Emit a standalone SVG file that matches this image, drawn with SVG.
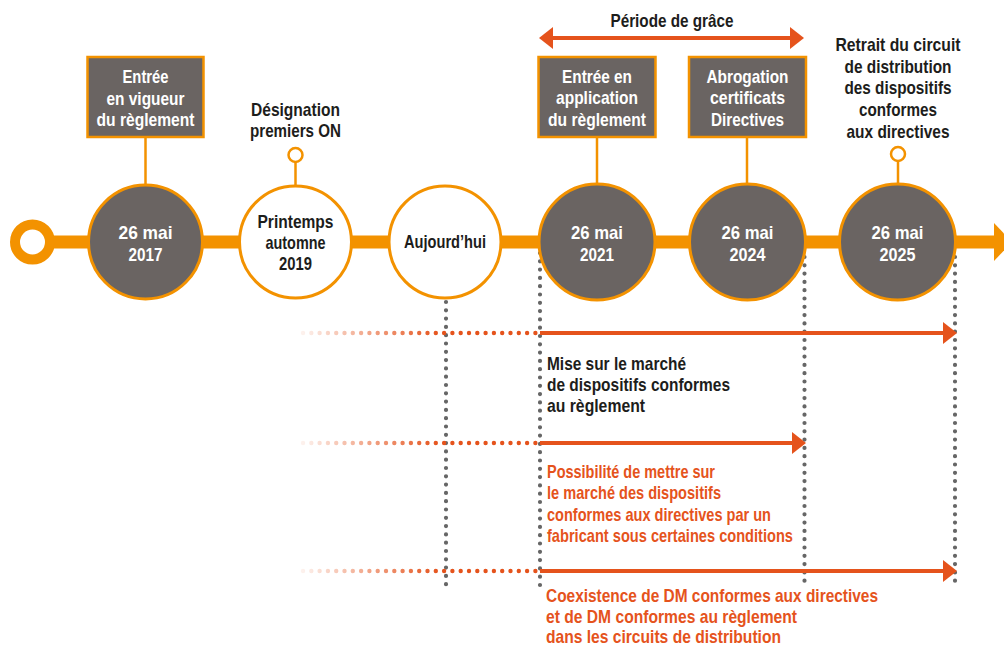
<svg xmlns="http://www.w3.org/2000/svg" width="1004" height="648" viewBox="0 0 1004 648">
<style>
text{font-family:"Liberation Sans Narrow","Liberation Sans",Arial,sans-serif;font-weight:bold;font-size:19px}
.w{fill:#ffffff;text-anchor:middle}
.k{fill:#1d1d1b;text-anchor:middle}
.kl{fill:#1d1d1b}
.ol{fill:#e5531c}
.gray{fill:#6a6462;stroke:#f39200;stroke-width:3}
.white{fill:#ffffff;stroke:#f39200;stroke-width:3}
.box{fill:#6a6462;stroke:#f39200;stroke-width:2.5}
.stem{stroke:#f39200;stroke-width:2.5;fill:none}
.vdot{stroke:#666666;stroke-width:4.2;stroke-linecap:round;stroke-dasharray:0 8.3;fill:none}
.hdot{stroke:url(#fade);stroke-width:4.4;stroke-linecap:round;stroke-dasharray:0 8.3;fill:none}
.sol{stroke:#e5531c;stroke-width:4;fill:none}
.head{fill:#e5531c}
</style>
<defs>
<linearGradient id="fade" gradientUnits="userSpaceOnUse" x1="303" y1="0" x2="440" y2="0">
<stop offset="0" stop-color="#e5531c" stop-opacity="0.08"/>
<stop offset="1" stop-color="#e5531c" stop-opacity="1"/>
</linearGradient>
</defs>
<rect width="1004" height="648" fill="#ffffff"/>

<g id="connectors">
<rect x="40" y="235.5" width="960" height="13" fill="#f39200"/>
<polygon points="994,223 1012,242 994,261" fill="#f39200"/>
<circle cx="32.5" cy="242" r="17.5" fill="#ffffff" stroke="#f39200" stroke-width="10"/>
<line class="stem" x1="145.5" y1="137" x2="145.5" y2="185"/>
<line class="stem" x1="597" y1="137" x2="597" y2="185"/>
<line class="stem" x1="747" y1="137" x2="747" y2="185"/>
<line class="stem" x1="295.5" y1="162" x2="295.5" y2="186"/>
<line class="stem" x1="898" y1="161" x2="898" y2="185"/>
<line class="vdot" x1="446" y1="302" x2="446" y2="586"/>
<line class="vdot" x1="540" y1="253" x2="540" y2="586"/>
<line class="vdot" x1="804.5" y1="257" x2="804.5" y2="586"/>
<line class="vdot" x1="955" y1="257" x2="955" y2="586"/>
<line class="hdot" x1="303" y1="333" x2="538" y2="333"/>
<line class="hdot" x1="303" y1="443" x2="538" y2="443"/>
<line class="hdot" x1="303" y1="571" x2="538" y2="571"/>
<line class="sol" x1="540" y1="333" x2="945" y2="333"/>
<polygon class="head" points="943,322 957,333 943,344"/>
<line class="sol" x1="540" y1="443" x2="794" y2="443"/>
<polygon class="head" points="792,432 806,443 792,454"/>
<line class="sol" x1="540" y1="571" x2="945" y2="571"/>
<polygon class="head" points="943,560 957,571 943,582"/>
<line class="sol" x1="550" y1="38" x2="793" y2="38"/>
<polygon class="head" points="553,27 539,38 553,49"/>
<polygon class="head" points="790,27 804,38 790,49"/>
</g>

<g id="grace-label">
<text class="k" x="672" y="27" textLength="123" lengthAdjust="spacingAndGlyphs">Période de grâce</text>
</g>

<g id="box-vigueur">
<rect class="box" x="87.5" y="57" width="116" height="80"/>
<text class="w" x="145.5" y="83" textLength="46" lengthAdjust="spacingAndGlyphs">Entrée</text>
<text class="w" x="145.5" y="105" textLength="78" lengthAdjust="spacingAndGlyphs">en vigueur</text>
<text class="w" x="145.5" y="126" textLength="98" lengthAdjust="spacingAndGlyphs">du règlement</text>
</g>

<g id="box-application">
<rect class="box" x="538.5" y="57" width="117" height="80"/>
<text class="w" x="597" y="83" textLength="70" lengthAdjust="spacingAndGlyphs">Entrée en</text>
<text class="w" x="597" y="104" textLength="82" lengthAdjust="spacingAndGlyphs">application</text>
<text class="w" x="597" y="126" textLength="98" lengthAdjust="spacingAndGlyphs">du règlement</text>
</g>

<g id="box-abrogation">
<rect class="box" x="689" y="57" width="117" height="80"/>
<text class="w" x="747.5" y="83" textLength="82" lengthAdjust="spacingAndGlyphs">Abrogation</text>
<text class="w" x="747.5" y="104" textLength="75" lengthAdjust="spacingAndGlyphs">certificats</text>
<text class="w" x="747.5" y="126" textLength="73" lengthAdjust="spacingAndGlyphs">Directives</text>
</g>

<g id="label-designation">
<text class="k" x="295.5" y="116" textLength="89" lengthAdjust="spacingAndGlyphs">Désignation</text>
<text class="k" x="295.5" y="137" textLength="91" lengthAdjust="spacingAndGlyphs">premiers ON</text>
<circle cx="295.5" cy="155" r="7" fill="#ffffff" stroke="#f39200" stroke-width="2.5"/>
</g>

<g id="label-retrait">
<text class="k" x="898" y="51" textLength="125" lengthAdjust="spacingAndGlyphs">Retrait du circuit</text>
<text class="k" x="898" y="73" textLength="107" lengthAdjust="spacingAndGlyphs">de distribution</text>
<text class="k" x="898" y="94" textLength="107" lengthAdjust="spacingAndGlyphs">des dispositifs</text>
<text class="k" x="898" y="116" textLength="78" lengthAdjust="spacingAndGlyphs">conformes</text>
<text class="k" x="898" y="138" textLength="103" lengthAdjust="spacingAndGlyphs">aux directives</text>
<circle cx="898" cy="154" r="7" fill="#ffffff" stroke="#f39200" stroke-width="2.5"/>
</g>

<g id="node-2017">
<circle class="gray" cx="145.5" cy="242" r="57"/>
<text class="w" x="145.5" y="239" textLength="54" lengthAdjust="spacingAndGlyphs">26 mai</text>
<text class="w" x="145.5" y="261" textLength="34" lengthAdjust="spacingAndGlyphs">2017</text>
</g>

<g id="node-2019">
<circle class="white" cx="295.5" cy="242" r="56"/>
<text class="k" x="295.5" y="228" textLength="76" lengthAdjust="spacingAndGlyphs">Printemps</text>
<text class="k" x="295.5" y="249" textLength="60" lengthAdjust="spacingAndGlyphs">automne</text>
<text class="k" x="295.5" y="270" textLength="33" lengthAdjust="spacingAndGlyphs">2019</text>
</g>

<g id="node-aujourdhui">
<circle class="white" cx="445" cy="242" r="56"/>
<text class="k" x="445" y="248" textLength="82" lengthAdjust="spacingAndGlyphs">Aujourd’hui</text>
</g>

<g id="node-2021">
<circle class="gray" cx="597" cy="242" r="58"/>
<text class="w" x="597" y="239" textLength="52" lengthAdjust="spacingAndGlyphs">26 mai</text>
<text class="w" x="597" y="261" textLength="34" lengthAdjust="spacingAndGlyphs">2021</text>
</g>

<g id="node-2024">
<circle class="gray" cx="747.5" cy="242" r="58"/>
<text class="w" x="747.5" y="239" textLength="52" lengthAdjust="spacingAndGlyphs">26 mai</text>
<text class="w" x="747.5" y="261" textLength="36" lengthAdjust="spacingAndGlyphs">2024</text>
</g>

<g id="node-2025">
<circle class="gray" cx="897.5" cy="242" r="58"/>
<text class="w" x="897.5" y="239" textLength="52" lengthAdjust="spacingAndGlyphs">26 mai</text>
<text class="w" x="897.5" y="261" textLength="36" lengthAdjust="spacingAndGlyphs">2025</text>
</g>

<g id="label-mise">
<text class="kl" x="547" y="370" textLength="139" lengthAdjust="spacingAndGlyphs">Mise sur le marché</text>
<text class="kl" x="547" y="391" textLength="183" lengthAdjust="spacingAndGlyphs">de dispositifs conformes</text>
<text class="kl" x="547" y="412" textLength="98" lengthAdjust="spacingAndGlyphs">au règlement</text>
</g>

<g id="label-possibilite">
<text class="ol" x="547" y="478" textLength="168" lengthAdjust="spacingAndGlyphs">Possibilité de mettre sur</text>
<text class="ol" x="547" y="499" textLength="174" lengthAdjust="spacingAndGlyphs">le marché des dispositifs</text>
<text class="ol" x="547" y="520.5" textLength="224" lengthAdjust="spacingAndGlyphs">conformes aux directives par un</text>
<text class="ol" x="547" y="541.5" textLength="246" lengthAdjust="spacingAndGlyphs">fabricant sous certaines conditions</text>
</g>

<g id="label-coexistence">
<text class="ol" x="546" y="602" textLength="332" lengthAdjust="spacingAndGlyphs">Coexistence de DM conformes aux directives</text>
<text class="ol" x="546" y="622.5" textLength="251" lengthAdjust="spacingAndGlyphs">et de DM conformes au règlement</text>
<text class="ol" x="546" y="643" textLength="235" lengthAdjust="spacingAndGlyphs">dans les circuits de distribution</text>
</g>
</svg>
